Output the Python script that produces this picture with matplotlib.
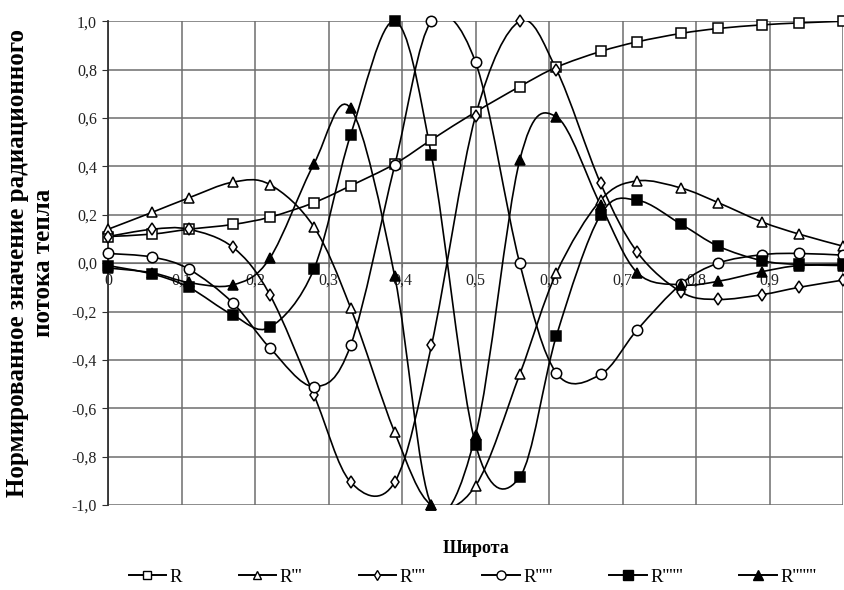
import matplotlib
matplotlib.use("Agg")
import matplotlib.pyplot as plt
from matplotlib.path import Path
from matplotlib.patches import PathPatch
from matplotlib.lines import Line2D

plt.rcParams['font.family'] = ['Liberation Serif', 'DejaVu Serif']

# --- данные (широта и нормированные значения) ---
lat = [0, 0.06, 0.11, 0.17, 0.22, 0.28, 0.33, 0.39, 0.44, 0.5,
       0.56, 0.61, 0.67, 0.72, 0.78, 0.83, 0.89, 0.94, 1.0]

r1 = [0.11, 0.12, 0.14, 0.16, 0.19, 0.25, 0.32, 0.41, 0.51, 0.625,
      0.73, 0.81, 0.875, 0.915, 0.95, 0.97, 0.985, 0.993, 1.0]
r3 = [0.14, 0.21, 0.27, 0.335, 0.325, 0.15, -0.185, -0.70, -1.0, -0.92,
      -0.46, -0.04, 0.26, 0.34, 0.31, 0.25, 0.17, 0.12, 0.07]
r4 = [0.11, 0.14, 0.14, 0.065, -0.13, -0.545, -0.905, -0.905, -0.34, 0.61,
      1.0, 0.80, 0.33, 0.045, -0.12, -0.15, -0.13, -0.10, -0.07]
r5 = [0.04, 0.025, -0.025, -0.165, -0.35, -0.51, -0.34, 0.405, 1.0, 0.83,
      0.0, -0.455, -0.46, -0.275, -0.085, 0.0, 0.035, 0.04, 0.033]
r6 = [-0.01, -0.045, -0.10, -0.215, -0.265, -0.025, 0.53, 1.0, 0.445, -0.75,
      -0.885, -0.30, 0.20, 0.26, 0.16, 0.07, 0.01, -0.005, -0.005]
r7 = [-0.02, -0.04, -0.08, -0.09, 0.02, 0.41, 0.64, -0.055, -1.0, -0.71,
      0.425, 0.605, 0.24, -0.04, -0.09, -0.075, -0.035, -0.01, -0.01]

names = ["R", "R'''", "R''''", "R'''''", "R''''''", "R'''''''"]
series = [r1, r3, r4, r5, r6, r7]
# маркер, заливка, размер
styles = [('s', 'white', 7), ('^', 'white', 7), ('d', 'white', 6),
          ('o', 'white', 7.5), ('s', 'black', 7.5), ('^', 'black', 7.5)]

xticks = [0, 0.1, 0.2, 0.3, 0.4, 0.5, 0.6, 0.7, 0.8, 0.9, 1.0]
xtick_labels = ["0", "0,1", "0,2", "0,3", "0,4", "0,5", "0,6", "0,7", "0,8", "0,9", "1"]
yticks = [-1.0, -0.8, -0.6, -0.4, -0.2, 0.0, 0.2, 0.4, 0.6, 0.8, 1.0]
ytick_labels = ["-1,0", "-0,8", "-0,6", "-0,4", "-0,2", "0,0", "0,2", "0,4", "0,6", "0,8", "1,0"]


def smooth_path(xs, ys):
    # сглаженная линия как в Excel (кривые Безье через точки)
    n = len(xs)
    verts = [(xs[0], ys[0])]
    codes = [Path.MOVETO]
    for i in range(n - 1):
        i0 = max(i - 1, 0)
        i3 = min(i + 2, n - 1)
        c1 = (xs[i] + (xs[i + 1] - xs[i0]) / 6, ys[i] + (ys[i + 1] - ys[i0]) / 6)
        c2 = (xs[i + 1] - (xs[i3] - xs[i]) / 6, ys[i + 1] - (ys[i3] - ys[i]) / 6)
        verts += [c1, c2, (xs[i + 1], ys[i + 1])]
        codes += [Path.CURVE4] * 3
    return Path(verts, codes)


fig = plt.figure(figsize=(8.44, 5.9), dpi=100)
ax = fig.add_axes([0.128, 0.144, 0.871, 0.82])

handles = []
for ys, name, (mk, fc, ms) in zip(series, names, styles):
    ax.add_patch(PathPatch(smooth_path(lat, ys), facecolor='none',
                           edgecolor='black', lw=1.2, zorder=3))
    ax.plot(lat, ys, ls='none', marker=mk, mfc=fc, mec='black', mew=1.1,
            ms=ms, zorder=4, clip_on=False)
    handles.append(Line2D([], [], color='black', lw=1.4, marker=mk, mfc=fc,
                          mec='black', mew=1.0, ms=ms - 1, label=name))

ax.set_xlim(0, 1)
ax.set_ylim(-1, 1)

ax.set_xticks(xticks)
ax.set_xticklabels(xtick_labels)
ax.set_yticks(yticks)
ax.set_yticklabels(ytick_labels)
ax.grid(True, color='#6e6e6e', lw=1.1)
ax.set_axisbelow(True)

# ось X проходит через ноль
ax.spines['bottom'].set_position(('data', 0))
ax.spines['bottom'].set_color('#6e6e6e')
ax.spines['top'].set_visible(False)
ax.spines['right'].set_visible(False)
ax.spines['left'].set_color('#303030')
ax.spines['left'].set_linewidth(1.3)
ax.tick_params(axis='x', length=3, colors='#6e6e6e', labelcolor='#222222',
               labelsize=11.5, pad=4)
ax.tick_params(axis='y', length=4, colors='#303030', labelcolor='#222222',
               labelsize=11.5, pad=4)
for lbl in ax.get_xticklabels():
    lbl.set_zorder(2)

fig.text(0.036, 0.555, "Нормированное значение радиационного\nпотока тепла",
         rotation=90, ha='center', va='center', fontsize=18, fontweight='bold',
         linespacing=1.15)
fig.text(0.564, 0.071, "Широта", ha='center', va='center', fontsize=13,
         fontweight='bold')

fig.legend(handles=handles, loc='center', bbox_to_anchor=(0.56, 0.022),
           ncol=6, frameon=False, fontsize=13.5, handlelength=2.0,
           columnspacing=3.0, handletextpad=0.2)

fig.savefig("out.png", dpi=100)
